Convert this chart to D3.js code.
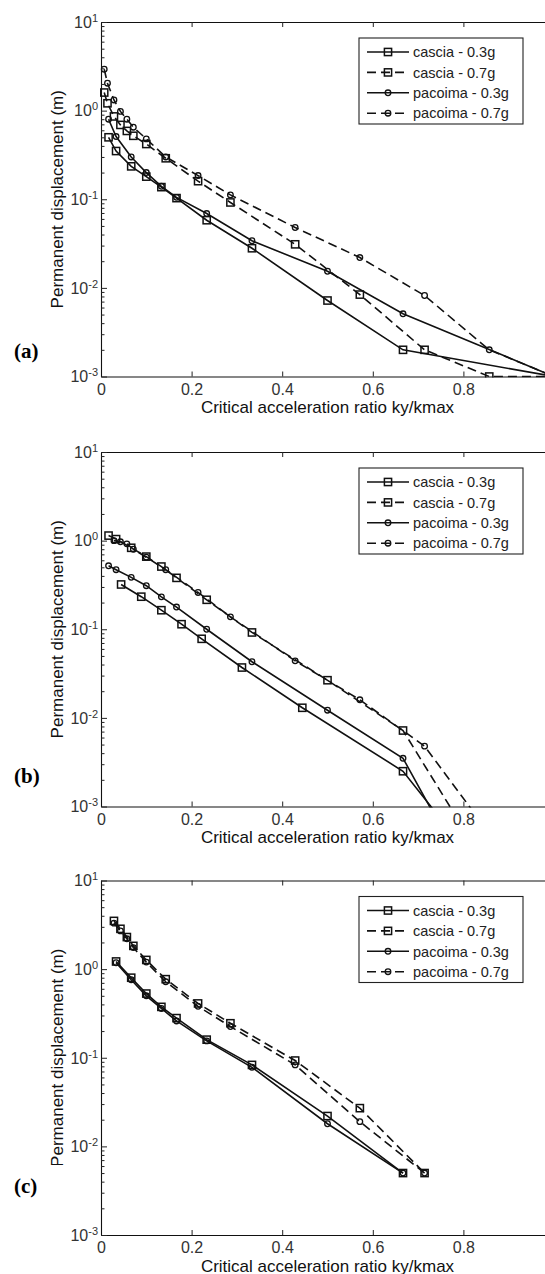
<!DOCTYPE html>
<html>
<head>
<meta charset="utf-8">
<script src="https://cdn.jsdelivr.net/npm/d3@7"></script>
<style>
  body { margin: 0; background: #fff; }
  text { font-family: "Liberation Sans", Arial, sans-serif; }
</style>
</head>
<body>
<script>
// ---- data ----
var seriesNames = ['cascia - 0.3g', 'cascia - 0.7g', 'pacoima - 0.3g', 'pacoima - 0.7g'];
var xTicks = [0, 0.2, 0.4, 0.6, 0.8, 1];
var xTickLabels = ['0', '0.2', '0.4', '0.6', '0.8', ''];
var yTicks = [1e-3, 1e-2, 1e-1, 1, 10];
var yExponents = ['-3', '-2', '-1', '0', '1'];

// panel (a)
var a_cascia03_x  = [0.0167, 0.0333, 0.0667, 0.1, 0.1333, 0.1667, 0.2333, 0.3333, 0.5, 0.6667, 1.0];
var a_cascia03_y  = [0.50, 0.35, 0.235, 0.18, 0.137, 0.103, 0.058, 0.028, 0.0072, 0.002, 0.001];
var a_cascia07_x  = [0.0071, 0.0143, 0.0286, 0.0429, 0.0571, 0.0714, 0.1, 0.1429, 0.2143, 0.2857, 0.4286, 0.5714, 0.7143, 0.8571, 1.0];
var a_cascia07_y  = [1.6, 1.21, 0.86, 0.69, 0.59, 0.52, 0.42, 0.29, 0.16, 0.092, 0.031, 0.0084, 0.002, 0.001, 0.001];
var a_pacoima03_x = [0.0167, 0.0333, 0.0667, 0.1, 0.1333, 0.1667, 0.2333, 0.3333, 0.5, 0.6667, 1.0];
var a_pacoima03_y = [0.80, 0.51, 0.30, 0.20, 0.14, 0.105, 0.069, 0.034, 0.0154, 0.0051, 0.001];
var a_pacoima07_x = [0.0071, 0.0143, 0.0286, 0.0429, 0.0571, 0.0714, 0.1, 0.1429, 0.2143, 0.2857, 0.4286, 0.5714, 0.7143, 0.8571, 1.0];
var a_pacoima07_y = [2.93, 2.04, 1.32, 0.98, 0.80, 0.65, 0.48, 0.30, 0.185, 0.112, 0.048, 0.022, 0.0082, 0.002, 0.001];

// panel (b)
var b_cascia03_x  = [0.0444, 0.0889, 0.1333, 0.1778, 0.2222, 0.3111, 0.4444, 0.6667, 0.8333];
var b_cascia03_y  = [0.32, 0.233, 0.164, 0.114, 0.078, 0.037, 0.013, 0.0025, 0.00021];
var b_cascia07_x  = [0.0167, 0.0333, 0.0667, 0.1, 0.1333, 0.1667, 0.2333, 0.3333, 0.5, 0.6667, 0.8333];
var b_cascia07_y  = [1.14, 1.04, 0.83, 0.66, 0.51, 0.38, 0.215, 0.092, 0.0266, 0.0072, 0.0003];
var b_pacoima03_x = [0.0167, 0.0333, 0.0667, 0.1, 0.1333, 0.1667, 0.2333, 0.3333, 0.5, 0.6667, 0.8333];
var b_pacoima03_y = [0.52, 0.47, 0.385, 0.31, 0.232, 0.178, 0.10, 0.043, 0.0122, 0.0035, 0.0001];
var b_pacoima07_x = [0.0286, 0.0429, 0.0571, 0.0714, 0.1, 0.1429, 0.2143, 0.2857, 0.4286, 0.5714, 0.7143, 0.8571];
var b_pacoima07_y = [1.0, 0.97, 0.92, 0.80, 0.65, 0.47, 0.26, 0.138, 0.044, 0.016, 0.0048, 0.0005];

// panel (c)
var c_cascia03_x  = [0.0333, 0.0667, 0.1, 0.1333, 0.1667, 0.2333, 0.3333, 0.5, 0.6667];
var c_cascia03_y  = [1.22, 0.80, 0.53, 0.375, 0.28, 0.16, 0.083, 0.022, 0.005];
var c_cascia07_x  = [0.0286, 0.0429, 0.0571, 0.0714, 0.1, 0.1429, 0.2143, 0.2857, 0.4286, 0.5714, 0.7143];
var c_cascia07_y  = [3.5, 2.85, 2.3, 1.83, 1.27, 0.77, 0.41, 0.245, 0.093, 0.027, 0.005];
var c_pacoima03_x = [0.0333, 0.0667, 0.1, 0.1333, 0.1667, 0.2333, 0.3333, 0.5, 0.6667];
var c_pacoima03_y = [1.18, 0.76, 0.50, 0.36, 0.26, 0.155, 0.078, 0.018, 0.005];
var c_pacoima07_x = [0.0286, 0.0429, 0.0571, 0.0714, 0.1, 0.1429, 0.2143, 0.2857, 0.4286, 0.5714, 0.7143];
var c_pacoima07_y = [3.3, 2.7, 2.2, 1.75, 1.2, 0.72, 0.38, 0.225, 0.083, 0.019, 0.005];

// ---- layout / styles ----
var width = 545, height = 1274;
var left = 101, right = 554, plotH = 354.5;
var dashes = [null, '9,5', null, '9,5'];
var markers = ['square', 'square', 'circle', 'circle'];

function pairs(xs, ys) {
  return xs.map(function(v, i) { return [v, ys[i]]; });
}

var panels = [
  { label: '(a)', top: 22, labelY: 358,
    series: [pairs(a_cascia03_x, a_cascia03_y), pairs(a_cascia07_x, a_cascia07_y),
             pairs(a_pacoima03_x, a_pacoima03_y), pairs(a_pacoima07_x, a_pacoima07_y)] },
  { label: '(b)', top: 452, labelY: 783,
    series: [pairs(b_cascia03_x, b_cascia03_y), pairs(b_cascia07_x, b_cascia07_y),
             pairs(b_pacoima03_x, b_pacoima03_y), pairs(b_pacoima07_x, b_pacoima07_y)] },
  { label: '(c)', top: 880.5, labelY: 1193, mask: true,
    series: [pairs(c_cascia03_x, c_cascia03_y), pairs(c_cascia07_x, c_cascia07_y),
             pairs(c_pacoima03_x, c_pacoima03_y), pairs(c_pacoima07_x, c_pacoima07_y)] }
];

var svg = d3.select('body').append('svg')
  .attr('width', width)
  .attr('height', height);

panels.forEach(function(p, pi) {
  var bottom = p.top + plotH;
  var x = d3.scaleLinear().domain([0, 1]).range([left, right]);
  var y = d3.scaleLog().domain([1e-3, 10]).range([bottom, p.top]);
  var g = svg.append('g').attr('class', 'panel');

  svg.append('clipPath').attr('id', 'clip' + pi)
    .append('rect')
    .attr('x', left - 1).attr('y', p.top - 1)
    .attr('width', right - left + 2).attr('height', plotH + 2);

  // bottom axis with labels
  var xa = g.append('g')
    .attr('transform', 'translate(0,' + bottom + ')')
    .call(d3.axisBottom(x).tickValues(xTicks).tickSize(-5).tickSizeOuter(0).tickPadding(7)
      .tickFormat(function(d, i) { return xTickLabels[i]; }));
  // top axis, ticks only
  g.append('g')
    .attr('transform', 'translate(0,' + p.top + ')')
    .call(d3.axisTop(x).tickValues(xTicks).tickSize(-5).tickSizeOuter(0).tickFormat(''));

  // left axis: decades
  var ya = g.append('g')
    .attr('transform', 'translate(' + left + ',0)')
    .call(d3.axisLeft(y).tickValues(yTicks).tickSize(-6).tickSizeOuter(0).tickFormat(''));
  ya.selectAll('.tick text').remove();
  ya.selectAll('.tick').each(function(d, i) {
    var t = d3.select(this).append('text')
      .attr('x', -3).attr('dy', '0.33em')
      .attr('text-anchor', 'end')
      .attr('fill', '#333')
      .style('font-size', '16px');
    t.append('tspan').text('10');
    t.append('tspan').attr('dy', '-6').style('font-size', '11px').text(yExponents[i]);
  });
  // minor log ticks
  var minor = y.ticks().filter(function(v) {
    return Math.abs(Math.log10(v) - Math.round(Math.log10(v))) > 1e-6;
  });
  g.append('g')
    .attr('transform', 'translate(' + left + ',0)')
    .call(d3.axisLeft(y).tickValues(minor).tickSize(-3.5).tickSizeOuter(0).tickFormat(''))
    .select('.domain').remove();

  g.selectAll('.domain').attr('stroke', '#111').attr('stroke-width', 1.1);
  g.selectAll('.tick line').attr('stroke', '#222');
  xa.selectAll('.tick text').attr('fill', '#333').style('font-size', '16px');

  // axis titles
  g.append('text')
    .attr('x', x(0.5)).attr('y', bottom + 36.5)
    .attr('text-anchor', 'middle')
    .attr('fill', '#111')
    .style('font-size', '17px')
    .text('Critical acceleration ratio ky/kmax');
  g.append('text')
    .attr('transform', 'translate(63,' + (p.top + plotH / 2) + ') rotate(-90)')
    .attr('text-anchor', 'middle')
    .attr('fill', '#111')
    .style('font-size', '17px')
    .text('Permanent displacement (m)');

  // curves
  var line = d3.line()
    .x(function(d) { return x(d[0]); })
    .y(function(d) { return y(d[1]); });
  var plot = g.append('g').attr('clip-path', 'url(#clip' + pi + ')');
  p.series.forEach(function(s, si) {
    plot.append('path')
      .datum(s)
      .attr('d', line)
      .attr('fill', 'none')
      .attr('stroke', '#111')
      .attr('stroke-width', 1.6)
      .attr('stroke-dasharray', dashes[si]);
    drawMarkers(plot, s.map(function(d) { return [x(d[0]), y(d[1])]; }), markers[si]);
  });

  // legend
  var lg = g.append('g').attr('transform', 'translate(359,' + (p.top + 16) + ')');
  lg.append('rect').attr('width', 164).attr('height', 86)
    .attr('fill', '#fff').attr('stroke', '#222').attr('stroke-width', 1.1);
  seriesNames.forEach(function(name, si) {
    var yy = 14 + si * 20.4;
    lg.append('line')
      .attr('x1', 8).attr('x2', 50).attr('y1', yy).attr('y2', yy)
      .attr('stroke', '#111').attr('stroke-width', 1.6)
      .attr('stroke-dasharray', dashes[si]);
    drawMarkers(lg, [[29, yy]], markers[si]);
    lg.append('text')
      .attr('x', 54).attr('y', yy).attr('dy', '0.36em')
      .attr('fill', '#222')
      .style('font-size', '14.5px')
      .text(name);
  });

  if (p.mask) {
    g.append('rect').attr('x', 0).attr('y', p.labelY - 28).attr('width', 75).attr('height', 45)
      .attr('fill', '#fff');
  }
  g.append('text')
    .attr('x', 14).attr('y', p.labelY)
    .style('font-family', '"Liberation Serif", "Times New Roman", serif')
    .style('font-weight', 'bold')
    .style('font-size', '21px')
    .attr('fill', '#000')
    .text(p.label);
});

function drawMarkers(sel, pts, type) {
  if (type === 'square') {
    sel.selectAll(null).data(pts).enter().append('rect')
      .attr('x', function(d) { return d[0] - 3.6; })
      .attr('y', function(d) { return d[1] - 3.6; })
      .attr('width', 7.2).attr('height', 7.2)
      .attr('fill', 'none').attr('stroke', '#111').attr('stroke-width', 1.5);
  } else {
    sel.selectAll(null).data(pts).enter().append('circle')
      .attr('cx', function(d) { return d[0]; })
      .attr('cy', function(d) { return d[1]; })
      .attr('r', 2.8)
      .attr('fill', 'none').attr('stroke', '#111').attr('stroke-width', 1.3);
  }
}
</script>
</body>
</html>
